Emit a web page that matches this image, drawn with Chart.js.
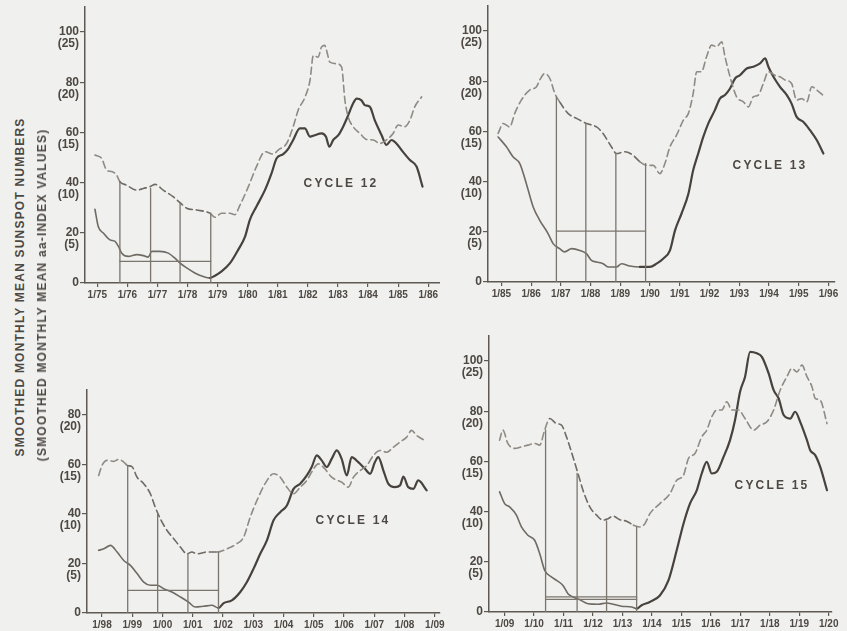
<!DOCTYPE html>
<html><head><meta charset="utf-8">
<script src="https://cdn.jsdelivr.net/npm/chart.js@4/dist/chart.umd.min.js"></script>
<style>
html,body{margin:0;padding:0;background:#f0f0ee;width:847px;height:631px;overflow:hidden;position:relative;}
canvas{position:absolute;}
.t{position:absolute;font-family:"Liberation Sans",Arial,sans-serif;font-weight:bold;color:#4d4843;white-space:nowrap;transform:translate(-50%,-50%);}
.yt{font-size:12px;letter-spacing:1.2px;transform:translate(-50%,-50%) rotate(-90deg);}
.cyc{font-size:12px;letter-spacing:2.2px;}
</style></head><body>
<canvas id="c12" width="400" height="310" style="left:40px;top:0px"></canvas>
<canvas id="c13" width="407" height="310" style="left:440px;top:0px"></canvas>
<canvas id="c14" width="410" height="251" style="left:40px;top:380px"></canvas>
<canvas id="c15" width="407" height="301" style="left:440px;top:330px"></canvas>
<div class="t yt" style="left:20px;top:287px">SMOOTHED MONTHLY MEAN SUNSPOT NUMBERS</div>
<div class="t yt" style="left:42px;top:295px">(SMOOTHED MONTHLY MEAN aa-INDEX VALUES)</div>
<div class="t cyc" style="left:341px;top:183px">CYCLE 12</div>
<div class="t cyc" style="left:770px;top:165px">CYCLE 13</div>
<div class="t cyc" style="left:353px;top:520px">CYCLE 14</div>
<div class="t cyc" style="left:772px;top:485px">CYCLE 15</div>
<script>
// ---------- tick labels ----------
const xLabels12 = ['1/75','1/76','1/77','1/78','1/79','1/80','1/81','1/82','1/83','1/84','1/85','1/86'];
const xLabels13 = ['1/85','1/86','1/87','1/88','1/89','1/90','1/91','1/92','1/93','1/94','1/95','1/96'];
const xLabels14 = ['1/98','1/99','1/00','1/01','1/02','1/03','1/04','1/05','1/06','1/07','1/08','1/09'];
const xLabels15 = ['1/09','1/10','1/11','1/12','1/13','1/14','1/15','1/16','1/17','1/18','1/19','1/20'];
const yTicksTall = [0,20,40,60,80,100];
const yLabelsTall = [['0',''],['20','(5)'],['40','(10)'],['60','(15)'],['80','(20)'],['100','(25)']];
const yTicksShort = [0,20,40,60,80];
const yLabelsShort = [['0',''],['20','(5)'],['40','(10)'],['60','(15)'],['80','(20)']];

// ---------- Cycle 12 ----------
const ssn12 = [[1874.92,29.4],[1875.03,22.5],[1875.20,19.9],[1875.42,17.2],[1875.59,16.6],[1875.70,14.6],[1875.81,11.9],[1876.03,10.6],[1876.31,11.3],[1876.53,10.9],[1876.69,10.3],[1876.81,12.6],[1877.08,12.6],[1877.36,11.9],[1877.58,9.9],[1877.75,7.9],[1877.97,6.0],[1878.24,4.0],[1878.52,2.6],[1878.74,2.0],[1878.91,2.9],[1879.13,4.6],[1879.41,7.9],[1879.68,13.2],[1879.91,18.5],[1880.07,25.2],[1880.29,30.5],[1880.57,37.0],[1880.79,43.7],[1880.96,49.7],[1881.18,51.4],[1881.35,53.6],[1881.51,57.0],[1881.73,61.6],[1881.90,61.6],[1882.07,58.3],[1882.23,58.9],[1882.45,59.6],[1882.60,58.3],[1882.71,54.3],[1882.84,57.0],[1883.01,58.9],[1883.17,62.3],[1883.34,66.9],[1883.50,71.5],[1883.62,73.5],[1883.78,72.8],[1883.89,70.9],[1884.06,70.2],[1884.22,64.9],[1884.45,58.9],[1884.61,55.0],[1884.78,57.0],[1884.94,55.6],[1885.11,53.0],[1885.39,49.0],[1885.61,46.4],[1885.81,38.4]];
const aa12 = [[1874.92,51.0],[1875.14,49.7],[1875.31,45.0],[1875.48,44.4],[1875.64,43.0],[1875.75,40.4],[1875.97,39.0],[1876.31,37.0],[1876.53,37.7],[1876.75,38.4],[1876.92,39.3],[1877.19,37.0],[1877.52,34.4],[1877.75,32.0],[1877.97,29.8],[1878.30,29.1],[1878.74,27.8],[1878.91,26.2],[1879.13,27.8],[1879.41,27.8],[1879.57,27.2],[1879.74,31.0],[1880.02,38.4],[1880.29,46.4],[1880.57,52.3],[1880.85,51.4],[1881.01,53.0],[1881.29,55.6],[1881.51,62.3],[1881.68,69.0],[1881.90,74.0],[1882.07,80.8],[1882.18,90.7],[1882.34,90.0],[1882.45,94.0],[1882.56,94.7],[1882.62,92.7],[1882.73,88.0],[1882.95,87.4],[1883.12,86.0],[1883.23,72.8],[1883.34,66.2],[1883.50,62.3],[1883.73,59.6],[1883.95,57.2],[1884.17,57.0],[1884.39,55.6],[1884.61,57.0],[1884.83,59.6],[1885.00,63.0],[1885.22,62.3],[1885.39,64.9],[1885.55,70.2],[1885.78,74.2]];
const guideX12 = [1875.75,1876.77,1877.75,1878.77];
const guideTop12 = [40.4,37.7,32.0,27.8];
const guideLevel12 = [8.6];

// ---------- Cycle 13 ----------
const ssn13 = [[1884.89,57.8],[1885.17,53.9],[1885.39,49.9],[1885.62,47.2],[1885.84,39.2],[1886.07,29.9],[1886.29,24.6],[1886.57,19.3],[1886.74,15.3],[1886.96,13.3],[1887.13,12.0],[1887.36,13.3],[1887.64,12.6],[1887.86,11.3],[1888.03,8.6],[1888.20,8.0],[1888.42,7.3],[1888.59,6.0],[1888.87,6.0],[1889.04,7.3],[1889.32,6.4],[1889.66,6.0],[1889.99,6.0],[1890.22,7.3],[1890.44,9.3],[1890.67,12.6],[1890.84,20.6],[1891.06,27.3],[1891.29,35.2],[1891.45,44.5],[1891.62,51.2],[1891.79,57.8],[1891.96,63.2],[1892.18,68.5],[1892.35,73.1],[1892.52,74.5],[1892.69,77.1],[1892.86,81.1],[1893.02,82.4],[1893.25,85.1],[1893.47,85.8],[1893.70,87.1],[1893.87,89.1],[1893.98,85.8],[1894.15,81.8],[1894.37,77.8],[1894.60,74.5],[1894.76,71.1],[1894.93,65.8],[1895.16,63.8],[1895.38,60.5],[1895.61,56.5],[1895.83,51.2]];
const aa13 = [[1884.89,59.2],[1885.06,63.2],[1885.28,61.8],[1885.45,67.2],[1885.67,72.5],[1885.95,76.5],[1886.18,77.8],[1886.29,80.5],[1886.46,83.1],[1886.63,81.1],[1886.80,75.1],[1886.96,71.8],[1887.24,67.2],[1887.53,65.2],[1887.86,63.2],[1888.20,61.8],[1888.42,59.2],[1888.70,53.9],[1888.87,51.2],[1889.15,51.9],[1889.43,50.5],[1889.66,47.9],[1889.88,46.5],[1890.11,46.5],[1890.33,43.2],[1890.50,47.2],[1890.67,53.9],[1890.89,58.5],[1891.12,64.5],[1891.29,67.2],[1891.45,75.1],[1891.57,83.8],[1891.73,83.8],[1891.90,89.8],[1892.07,94.4],[1892.24,93.8],[1892.41,95.7],[1892.52,89.8],[1892.69,81.8],[1892.91,73.8],[1893.14,71.8],[1893.31,69.8],[1893.47,73.8],[1893.64,74.5],[1893.81,79.1],[1893.98,83.8],[1894.20,82.4],[1894.37,81.8],[1894.54,80.5],[1894.76,79.1],[1894.93,72.5],[1895.10,73.1],[1895.27,71.8],[1895.44,77.8],[1895.61,76.5],[1895.81,74.5]];
const guideX13 = [1886.85,1887.84,1888.85,1889.85];
const guideTop13 = [73.8,63.2,51.2,47.2];
const guideLevel13 = [20.3];

// ---------- Cycle 14 ----------
const ssn14 = [[1897.89,25.3],[1898.06,25.9],[1898.28,27.3],[1898.50,24.6],[1898.72,21.2],[1898.94,19.2],[1899.16,15.9],[1899.38,12.5],[1899.60,11.2],[1899.82,11.2],[1900.04,9.8],[1900.31,8.5],[1900.59,6.5],[1900.86,4.4],[1901.08,2.4],[1901.36,2.7],[1901.63,3.1],[1901.85,2.0],[1902.02,4.0],[1902.29,5.1],[1902.57,8.5],[1902.79,12.5],[1903.01,17.9],[1903.23,23.9],[1903.45,29.3],[1903.67,37.4],[1903.89,40.7],[1904.11,43.4],[1904.33,50.1],[1904.55,52.2],[1904.77,55.5],[1904.93,58.9],[1905.10,63.6],[1905.26,61.6],[1905.43,58.9],[1905.59,62.2],[1905.76,65.6],[1905.92,62.2],[1906.09,55.5],[1906.25,62.9],[1906.47,60.9],[1906.69,58.2],[1906.86,56.2],[1907.02,60.9],[1907.13,62.9],[1907.30,57.5],[1907.46,52.2],[1907.68,50.8],[1907.85,51.5],[1907.96,55.0],[1908.12,50.8],[1908.29,50.1],[1908.45,53.5],[1908.73,49.5]];
const aa14 = [[1897.89,55.5],[1898.00,59.5],[1898.17,61.6],[1898.39,61.2],[1898.55,62.0],[1898.72,60.9],[1898.85,59.5],[1898.99,59.1],[1899.16,54.8],[1899.38,52.2],[1899.60,48.1],[1899.76,42.7],[1899.93,38.0],[1900.15,33.3],[1900.37,30.0],[1900.59,26.6],[1900.81,23.9],[1900.97,24.6],[1901.14,23.9],[1901.47,24.6],[1901.80,24.6],[1902.13,25.9],[1902.46,28.0],[1902.68,30.6],[1902.90,38.7],[1903.12,45.4],[1903.39,52.2],[1903.67,56.2],[1903.89,54.8],[1904.11,50.8],[1904.33,48.1],[1904.55,50.8],[1904.77,53.5],[1904.93,56.9],[1905.15,60.2],[1905.37,58.1],[1905.59,54.8],[1905.92,52.8],[1906.14,50.8],[1906.31,54.8],[1906.53,57.5],[1906.75,59.5],[1906.97,63.6],[1907.19,65.6],[1907.41,64.9],[1907.63,66.9],[1907.85,69.0],[1908.07,71.0],[1908.23,73.7],[1908.40,71.6],[1908.67,69.6]];
const guideX14 = [1898.85,1899.84,1900.84,1901.85];
const guideTop14 = [59.5,40.0,23.9,24.6];
const guideLevel14 = [9.1];

// ---------- Cycle 15 ----------
const ssn15 = [[1908.83,47.9],[1909.00,43.2],[1909.17,41.9],[1909.40,38.6],[1909.57,33.9],[1909.79,30.6],[1910.02,28.6],[1910.19,23.3],[1910.36,16.6],[1910.59,14.0],[1910.76,12.6],[1910.98,10.6],[1911.15,7.3],[1911.32,6.0],[1911.55,4.9],[1911.83,3.3],[1912.17,3.1],[1912.46,3.6],[1912.68,3.1],[1912.97,2.3],[1913.31,2.0],[1913.48,1.3],[1913.65,2.7],[1913.93,4.0],[1914.27,6.6],[1914.56,12.6],[1914.84,24.6],[1915.07,35.2],[1915.29,43.2],[1915.52,48.5],[1915.69,55.2],[1915.86,59.8],[1916.03,55.2],[1916.20,55.9],[1916.43,61.8],[1916.65,68.5],[1916.82,76.5],[1916.99,87.8],[1917.16,93.8],[1917.33,103.7],[1917.56,103.1],[1917.73,101.7],[1917.96,95.1],[1918.13,88.4],[1918.30,85.1],[1918.47,78.5],[1918.69,77.1],[1918.86,79.8],[1919.03,75.8],[1919.26,68.5],[1919.37,64.5],[1919.54,62.5],[1919.71,57.8],[1919.94,48.5]];
const aa15 = [[1908.83,68.5],[1908.94,72.5],[1909.11,67.2],[1909.34,65.2],[1909.57,65.8],[1909.79,66.5],[1910.02,67.2],[1910.19,66.5],[1910.36,72.5],[1910.53,77.1],[1910.76,75.1],[1910.93,74.5],[1911.10,69.8],[1911.32,61.8],[1911.49,55.2],[1911.66,48.5],[1911.89,41.9],[1912.12,38.6],[1912.34,36.6],[1912.51,37.2],[1912.68,38.2],[1912.91,36.8],[1913.14,36.2],[1913.37,34.6],[1913.59,33.9],[1913.76,35.2],[1913.93,39.2],[1914.27,43.2],[1914.61,47.2],[1914.84,52.5],[1915.07,54.5],[1915.24,61.2],[1915.46,63.2],[1915.69,69.8],[1915.86,72.5],[1916.03,77.8],[1916.20,80.5],[1916.37,80.5],[1916.54,83.8],[1916.71,80.5],[1916.94,80.5],[1917.16,77.1],[1917.45,72.5],[1917.67,74.5],[1917.90,75.8],[1918.13,80.5],[1918.35,88.4],[1918.58,93.8],[1918.75,97.1],[1918.92,95.7],[1919.09,98.4],[1919.26,93.8],[1919.43,89.8],[1919.54,85.1],[1919.71,84.4],[1919.94,75.1]];
const guideX15 = [1910.39,1911.46,1912.46,1913.48];
const guideTop15 = [72.5,55.2,36.3,33.9];
const guideLevel15 = [6.0,5.0];

// ---------- drawing ----------
const DARK = '#47423d', MID = '#6f6a63', LIGHT = '#8f8a83', GUIDE = '#7a756d', AXIS = '#5e5953', TXT = '#4d4843';
const FONT = '"Liberation Sans", Arial, sans-serif';
function pts(a){ return a.map(p => ({x: p[0], y: p[1]})); }

function makePanel(o){
  const g0 = o.gx[0], g1 = o.gx[o.gx.length - 1];
  const ds = [];
  o.gx.forEach((x, i) => ds.push({data: [{x: x, y: 0}, {x: x, y: o.gtop[i]}], borderColor: GUIDE, borderWidth: 1.3, tension: 0}));
  o.levels.forEach(l => ds.push({data: [{x: g0, y: l}, {x: g1, y: l}], borderColor: GUIDE, borderWidth: 1.3, tension: 0}));
  ds.push({data: pts(o.aa), borderColor: LIGHT, borderWidth: 1.6, borderDash: [7, 4],
    cubicInterpolationMode: 'monotone',
    segment: {borderColor: c => (c.p0.parsed.x >= g0 - 0.02 && c.p1.parsed.x <= g1 + 0.02) ? MID : LIGHT}});
  ds.push({data: pts(o.ssn), borderColor: DARK, borderWidth: 2.2,
    cubicInterpolationMode: 'monotone',
    segment: {borderColor: c => c.p1.parsed.x <= g1 + 0.02 ? MID : DARK,
              borderWidth: c => c.p1.parsed.x <= g1 + 0.02 ? 1.6 : 2.2}});
  new Chart(document.getElementById(o.id), {
    type: 'line',
    data: {datasets: ds},
    options: {
      responsive: false, animation: false, devicePixelRatio: 1,
      layout: {padding: {top: o.padTop, left: 0, right: o.padRight, bottom: 0}},
      plugins: {legend: {display: false}, tooltip: {enabled: false}},
      elements: {point: {radius: 0}, line: {fill: false, borderCapStyle: 'round', borderJoinStyle: 'round'}},
      scales: {
        x: {type: 'linear', min: o.xMin, max: o.xMax,
          afterBuildTicks: s => { s.ticks = o.xLabels.map((l, i) => ({value: o.firstYear + i})); },
          afterFit: s => { s.height = o.xH; s.paddingLeft = 0; s.paddingRight = 0; },
          ticks: {autoSkip: false, maxRotation: 0, minRotation: 0, padding: 2, color: TXT,
            font: {family: FONT, weight: 'bold', size: 10},
            callback: (v, i) => o.xLabels[i]},
          grid: {drawOnChartArea: false, tickLength: 4, color: AXIS, lineWidth: 1.2},
          border: {color: AXIS, width: 1.5}
        },
        y: {type: 'linear', min: 0, max: o.yMax,
          afterBuildTicks: s => { s.ticks = o.yTicks.map(v => ({value: v})); },
          afterFit: s => { s.width = o.yW; s.paddingTop = 0; s.paddingBottom = 0; },
          ticks: {padding: 1, labelOffset: 6, color: TXT,
            font: {family: FONT, weight: 'bold', size: 12, lineHeight: 1.0},
            callback: (v, i) => o.yLabels[i]},
          grid: {drawOnChartArea: false, tickLength: 5, color: AXIS, lineWidth: 1.2},
          border: {color: AXIS, width: 1.5}
        }
      }
    }
  });
}

makePanel({id: 'c12', ssn: ssn12, aa: aa12, gx: guideX12, gtop: guideTop12, levels: guideLevel12,
  xLabels: xLabels12, firstYear: 1875, xMin: 1874.59, xMax: 1886.39,
  yTicks: yTicksTall, yLabels: yLabelsTall, yMax: 110, yW: 45, xH: 27, padTop: 7, padRight: 0});
makePanel({id: 'c13', ssn: ssn13, aa: aa13, gx: guideX13, gtop: guideTop13, levels: guideLevel13,
  xLabels: xLabels13, firstYear: 1885, xMin: 1884.55, xMax: 1896.22,
  yTicks: yTicksTall, yLabels: yLabelsTall, yMax: 110, yW: 48, xH: 28, padTop: 6, padRight: 12});
makePanel({id: 'c14', ssn: ssn14, aa: aa14, gx: guideX14, gtop: guideTop14, levels: guideLevel14,
  xLabels: xLabels14, firstYear: 1898, xMin: 1897.505, xMax: 1909.17,
  yTicks: yTicksShort, yLabels: yLabelsShort, yMax: 90, yW: 47, xH: 18, padTop: 10, padRight: 10});
makePanel({id: 'c15', ssn: ssn15, aa: aa15, gx: guideX15, gtop: guideTop15, levels: guideLevel15,
  xLabels: xLabels15, firstYear: 1909, xMin: 1908.47, xMax: 1920.11,
  yTicks: yTicksTall, yLabels: yLabelsTall, yMax: 110, yW: 49, xH: 19, padTop: 6, padRight: 15});
</script>
</body></html>
